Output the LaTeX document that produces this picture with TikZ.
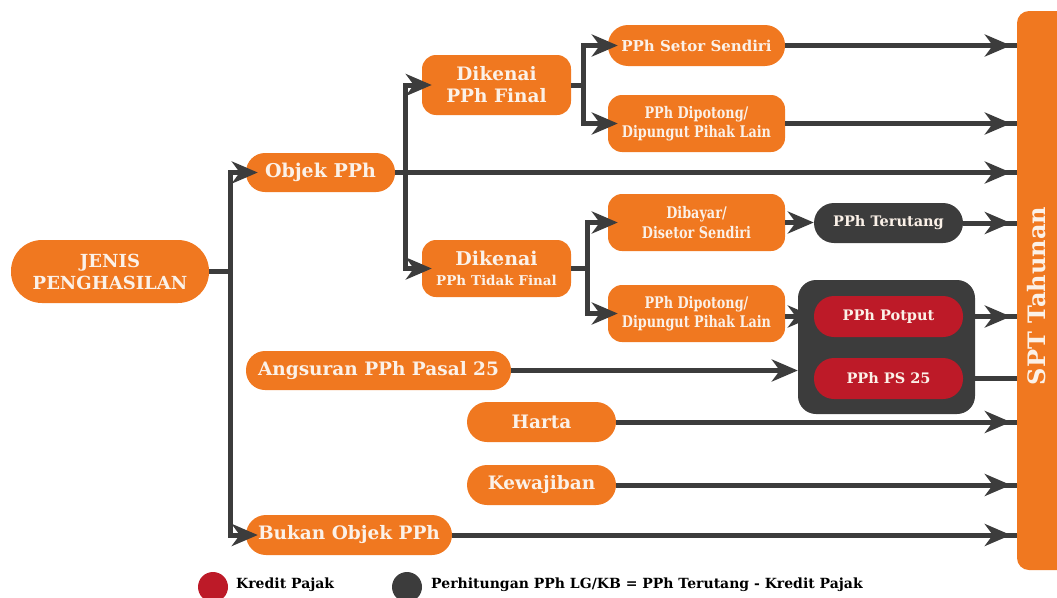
\documentclass[tikz,border=0pt]{standalone}
\usepackage{fontspec}
\setmainfont{DejaVu Serif}
\newfontfamily\slab{DejaVu Serif}
\newfontfamily\slabc[FakeStretch=0.8]{DejaVu Serif}
\usetikzlibrary{arrows.meta,decorations.markings}
\definecolor{oc}{HTML}{F07820}
\definecolor{dk}{HTML}{3C3C3C}
\definecolor{rd}{HTML}{BD1A28}
\definecolor{tx}{HTML}{FBF1E8}
\tikzset{
  base/.style={inner sep=0pt, align=center, text=tx, font=\slab\bfseries},
  ob/.style={base, fill=oc},
  db/.style={base, fill=dk},
  rb/.style={base, fill=rd},
  sz/.style 2 args={minimum width=#1, minimum height=#2},
  ln/.style={draw=dk, line width=5pt},
  tip/.style={-{Stealth[length=26pt,width=22pt,inset=8pt]}},
  br/.style={ln, tip},
  tospt/.style={ln, postaction={decorate}, decoration={markings,
     mark=at position -6pt with {\arrow{Stealth[length=26pt,width=22pt,inset=8pt]}}}},
  fs/.style={font=\slab\bfseries\fontsize{#1}{#1}\selectfont},
  fc/.style={font=\slabc\bfseries\fontsize{16}{19.5}\selectfont},
}
\begin{document}
\begin{tikzpicture}[x=1pt,y=-1pt]
\useasboundingbox (0,0) rectangle (1057,597);

% nodes
\node[ob, sz={198}{63}, rounded corners=31, fs=18] (jenis) at (110,271.5) {JENIS\\[4pt]PENGHASILAN};
\node[ob, sz={149}{60}, rounded corners=14, fs=18.5] (final) at (496.5,85) {Dikenai\\[3.5pt]PPh Final};
\node[ob, sz={149}{39}, rounded corners=19, fs=19] (objek) at (320.5,172.5) {Objek PPh};
\node[ob, sz={149}{57}, rounded corners=14, fs=19] (tfinal) at (496.5,268.5) {Dikenai\\[1pt]{\fontsize{13.5}{13.5}\selectfont PPh Tidak Final}};
\node[ob, sz={177}{41}, rounded corners=20, fs=15] (setor) at (696.5,45.5) {PPh Setor Sendiri};
\node[ob, sz={177}{57}, rounded corners=14, fc] (dipot1) at (696.5,123.5) {PPh Dipotong/\\Dipungut Pihak Lain};
\node[ob, sz={177}{57}, rounded corners=14, fc] (dibayar) at (696.5,222.5) {Dibayar/\\Disetor Sendiri};
\node[ob, sz={177}{57}, rounded corners=14, fc] (dipot2) at (696.5,313.5) {PPh Dipotong/\\Dipungut Pihak Lain};
\node[db, sz={149}{40}, rounded corners=20, fs=14.5] (terutang) at (888.5,223) {PPh Terutang};
\node[db, sz={177}{134}, rounded corners=18] (dbox) at (886.5,347) {};
\node[rb, sz={149}{41}, rounded corners=20, fs=14.5] (potput) at (888.5,316.5) {PPh Potput};
\node[rb, sz={149}{41}, rounded corners=20, fs=14.5] (ps25) at (888.5,378.5) {PPh PS 25};
\node[ob, sz={265}{39}, rounded corners=19, fs=18.5] (angsuran) at (378.5,370.5) {Angsuran PPh Pasal 25};
\node[ob, sz={149}{40}, rounded corners=20, fs=18.5] (harta) at (541.5,422) {Harta};
\node[ob, sz={149}{40}, rounded corners=20, fs=18.5] (kewajiban) at (541.5,485) {Kewajiban};
\node[ob, sz={206}{40}, rounded corners=20, fs=18.5] (bukan) at (349,535) {Bukan Objek PPh};
\node[ob, sz={60}{559}, rounded corners=12] (spt) at (1047,290.5) {};
\node[base, rotate=90, fs=24, anchor=center] (spttext) at (1037,296) {SPT Tahunan};

% legend
\node[circle, fill=rd, minimum size=30pt, inner sep=0pt] (lk) at (213,587) {};
\node[anchor=west, inner sep=0pt, fs=14, text=black] (lkt) at (236,585) {Kredit Pajak};
\node[circle, fill=dk, minimum size=30pt, inner sep=0pt] (lp) at (407,587) {};
\node[anchor=west, inner sep=0pt, fs=14, text=black] (lpt) at (431,585) {Perhitungan PPh LG/KB = PPh Terutang - Kredit Pajak};

% bus coordinates
\coordinate (b1) at (230,271.5);
\coordinate (b2) at (405,172.5);
\coordinate (b3) at (583,85);
\coordinate (b4) at (587,268.5);

% branches
\draw[ln] (jenis.east) -- (b1);
\draw[br] (b1) |- ([xshift=12pt]objek.west);
\draw[br] (b1) |- ([xshift=12pt]bukan.west);
\draw[ln] (objek.east) -- (b2);
\draw[br] (b2) |- ([xshift=10pt]final.west);
\draw[br] (b2) |- ([xshift=10pt]tfinal.west);
\draw[ln] (final.east) -- (b3);
\draw[br] (b3) |- ([xshift=10pt]setor.west);
\draw[br] (b3) |- ([xshift=10pt]dipot1.west);
\draw[ln] (tfinal.east) -- (b4);
\draw[br] (b4) |- ([xshift=10pt]dibayar.west);
\draw[br] (b4) |- ([xshift=10pt]dipot2.west);
\draw[br] (dibayar.east) -- (terutang.west |- dibayar.east);
\draw[br] (dipot2.east |- potput.west) -- (potput.west);
\draw[br] (angsuran.east) -- (angsuran.east -| dbox.west);

% into SPT
\draw[tospt] (setor.east) -- (setor.east -| spt.west);
\draw[tospt] (dipot1.east) -- (dipot1.east -| spt.west);
\draw[tospt] (objek.east) -- (objek.east -| spt.west);
\draw[tospt] (terutang.east) -- (terutang.east -| spt.west);
\draw[tospt] (dbox.east |- potput.east) -- (potput.east -| spt.west);
\draw[ln] (dbox.east |- ps25.east) -- (ps25.east -| spt.west);
\draw[tospt] (harta.east) -- (harta.east -| spt.west);
\draw[tospt] (kewajiban.east) -- (kewajiban.east -| spt.west);
\draw[tospt] (bukan.east) -- (bukan.east -| spt.west);
\end{tikzpicture}
\end{document}
